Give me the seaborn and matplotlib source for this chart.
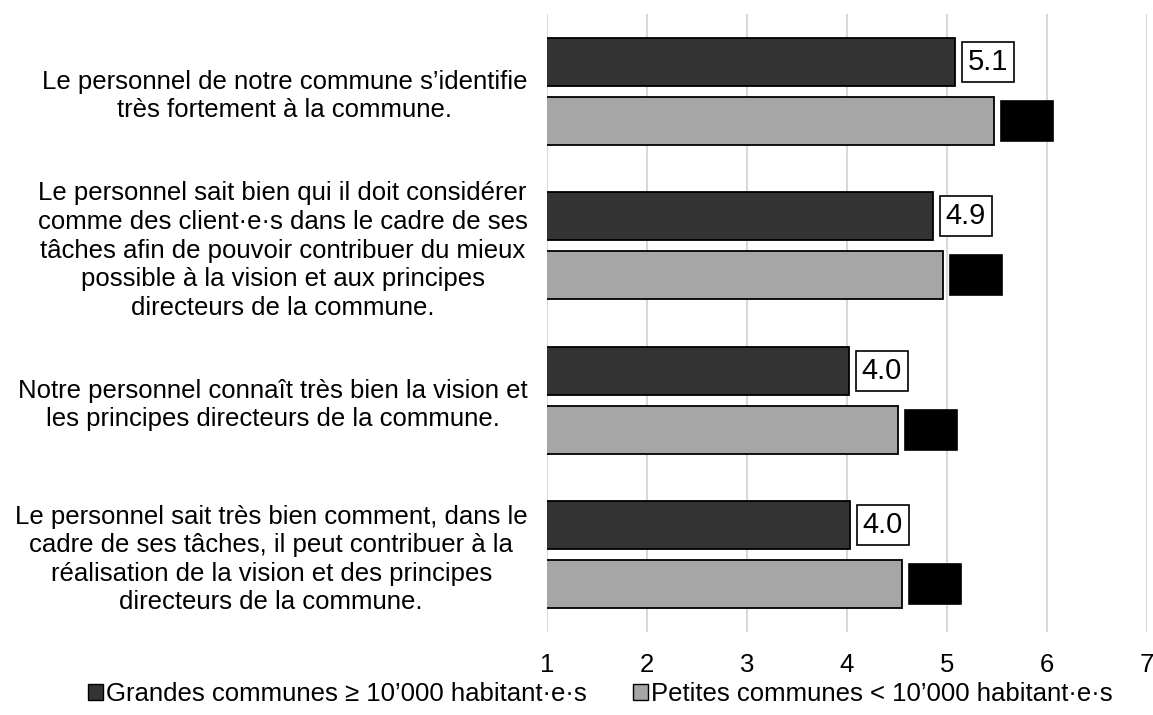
import matplotlib.pyplot as plt
import seaborn as sns
import pandas as pd
from matplotlib.patches import Patch

questions = [
    "Le personnel de notre commune s’identifie\ntrès fortement à la commune.",
    "Le personnel sait bien qui il doit considérer\ncomme des client·e·s dans le cadre de ses\n"
    "tâches afin de pouvoir contribuer du mieux\npossible à la vision et aux principes\n"
    "directeurs de la commune.",
    "Notre personnel connaît très bien la vision et\nles principes directeurs de la commune.",
    "Le personnel sait très bien comment, dans le\ncadre de ses tâches, il peut contribuer à la\n"
    "réalisation de la vision et des principes\ndirecteurs de la commune.",
]
groups = ["Grandes communes ≥ 10’000 habitant·e·s", "Petites communes < 10’000 habitant·e·s"]
grandes = [5.08, 4.86, 4.02, 4.03]
petites = [5.47, 4.96, 4.51, 4.55]
colors = ["#333333", "#a6a6a6"]

df = pd.DataFrame({
    "question": questions * 2,
    "groupe": [groups[0]] * 4 + [groups[1]] * 4,
    "score": grandes + petites,
})

sns.set_style("white")
plt.rcParams["font.family"] = ["Liberation Sans", "DejaVu Sans"]
plt.rcParams["text.color"] = "black"
plt.rcParams["xtick.color"] = "black"
plt.rcParams["ytick.color"] = "black"

fig, ax = plt.subplots(figsize=(11.53, 7.15), dpi=100)
fig.subplots_adjust(left=0.4744, right=0.9948, top=0.9804, bottom=0.1161)

sns.barplot(data=df, y="question", x="score", hue="groupe", palette=colors, orient="h",
            width=0.764, gap=0.186, edgecolor="black", linewidth=1.3, legend=False, ax=ax)

ax.set_xlim(1, 7)
ax.set_xticks(range(1, 8))
ax.xaxis.grid(True, color="#d9d9d9", lw=1.5)
ax.set_axisbelow(True)
for s in ax.spines.values():
    s.set_visible(False)
ax.set_xlabel("")
ax.set_ylabel("")
ax.tick_params(axis="x", length=0, labelsize=18.5, pad=15)
ax.tick_params(axis="y", length=0, labelsize=18.5, pad=14)
for lab in ax.get_yticklabels():
    lab.set_multialignment("center")
    lab.set_linespacing(1.24)

# value labels: white boxes for large communes, black boxes (hidden) for small ones
ax.bar_label(ax.containers[0], fmt="%.1f", padding=9, fontsize=21,
             bbox=dict(boxstyle="square,pad=0.2", fc="white", ec="black", lw=1.2))
ax.bar_label(ax.containers[1], fmt="%.1f", padding=9, fontsize=21, color="black",
             bbox=dict(boxstyle="square,pad=0.2", fc="black", ec="black", lw=1.2))

handles = [Patch(fc=c, ec="black", lw=1) for c in colors]
fig.legend(handles, groups, loc="center", bbox_to_anchor=(0.521, 0.029), ncol=2,
           frameon=False, fontsize=18.5, handlelength=0.55, handleheight=0.55,
           handletextpad=0.15, columnspacing=1.8)

fig.savefig("out.png", dpi=100)
